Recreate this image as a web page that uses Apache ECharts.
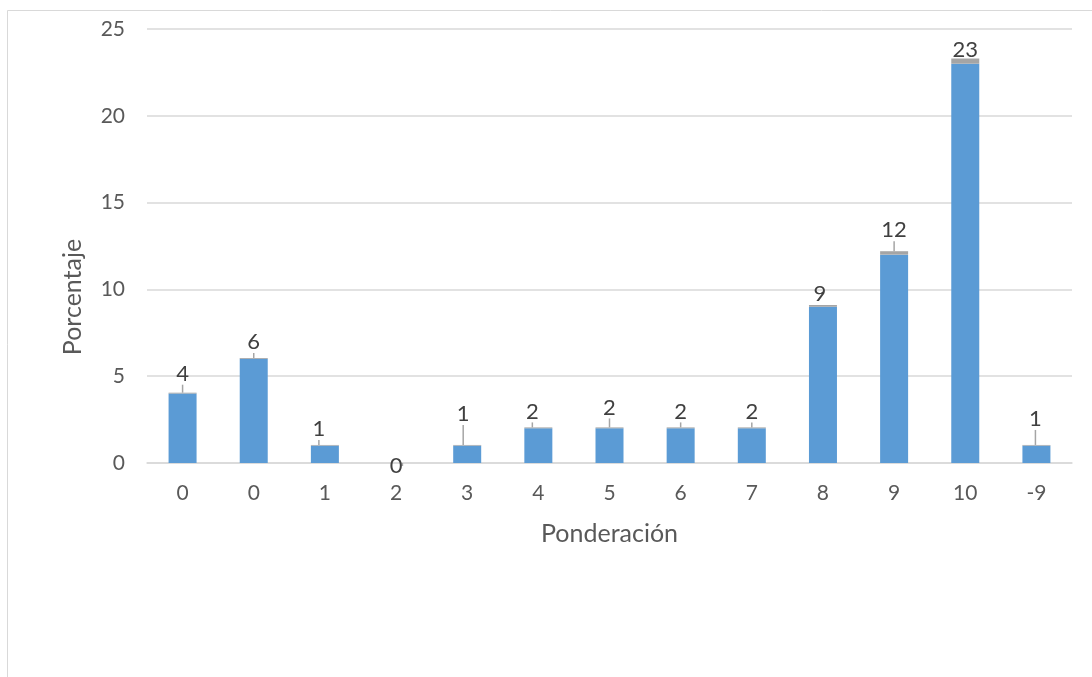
<!DOCTYPE html>
<html>
<head>
<meta charset="utf-8">
<script src="https://cdn.jsdelivr.net/npm/echarts@6/dist/echarts.min.js"></script>
<style>
html,body{margin:0;padding:0;background:#fff;}
#chart{width:1092px;height:677px;}
</style>
</head>
<body>
<div id="chart"></div>
<script>
// Data
const categories = ['0', '0', '1', '2', '3', '4', '5', '6', '7', '8', '9', '10', '-9'];
const porcentaje = [4, 6, 1, 0, 1, 2, 2, 2, 2, 9, 12, 23, 1];
const remanente = [0.05, 0.05, 0.04, 0, 0.04, 0.05, 0.05, 0.05, 0.05, 0.1, 0.2, 0.3, 0.04];
const yTicks = [0, 5, 10, 15, 20, 25];

// label displacement (px) to mimic the reference label placement
const labelShift = [[0,-4],[0,-1],[-6,-1],[0,18],[-4,-16],[-6,-1],[0,-5],[0,-1],[0,-1],[-3,4],[0,-6],[0,6],[-1,-11]];

const FONT = 'Lato, "Open Sans", sans-serif';
const chart = echarts.init(document.getElementById('chart'));
chart.setOption({
  animation: false,
  backgroundColor: '#ffffff',
  graphic: [{
    type: 'rect', silent: true, z: -1,
    shape: { x: 7.5, y: 10.5, width: 1200, height: 800 },
    style: { fill: 'none', stroke: '#d9d9d9', lineWidth: 1 }
  }],
  grid: { left: 147, right: 20, top: 29, bottom: 214, containLabel: false },
  xAxis: {
    type: 'category',
    data: categories,
    name: 'Ponderación',
    nameLocation: 'middle',
    nameGap: 58,
    nameTextStyle: { fontFamily: FONT, fontSize: 25, color: '#595959' },
    axisLine: { show: true, lineStyle: { color: '#d9d9d9', width: 1.5 } },
    axisTick: { show: false },
    axisLabel: { fontFamily: FONT, fontSize: 21, color: '#595959', margin: 20 }
  },
  yAxis: {
    type: 'value',
    min: yTicks[0],
    max: yTicks[yTicks.length - 1],
    interval: 5,
    name: 'Porcentaje',
    nameLocation: 'middle',
    nameGap: 62,
    nameTextStyle: { fontFamily: FONT, fontSize: 25, color: '#595959', padding: [0, 0, 0, -102] },
    axisLine: { show: false },
    axisTick: { show: false },
    axisLabel: { fontFamily: FONT, fontSize: 21, color: '#595959', margin: 22 },
    splitLine: { lineStyle: { color: '#d9d9d9', width: 1.5 } }
  },
  series: [
    {
      name: 'Porcentaje',
      type: 'bar',
      stack: 'total',
      data: porcentaje,
      barWidth: 28,
      itemStyle: { color: '#5b9bd5' }
    },
    {
      name: 'Otro',
      type: 'bar',
      stack: 'total',
      data: remanente,
      barWidth: 28,
      itemStyle: { color: '#a5a5a5' },
      label: {
        show: true,
        position: 'top',
        distance: 4,
        fontFamily: FONT,
        fontSize: 22,
        color: '#404040',
        formatter: p => String(porcentaje[p.dataIndex])
      },
      labelLine: { show: true, lineStyle: { color: '#a5a5a5', width: 1.5 } },
      labelLayout: p => ({ dx: labelShift[p.dataIndex][0], dy: labelShift[p.dataIndex][1] })
    }
  ]
});
</script>
</body>
</html>
